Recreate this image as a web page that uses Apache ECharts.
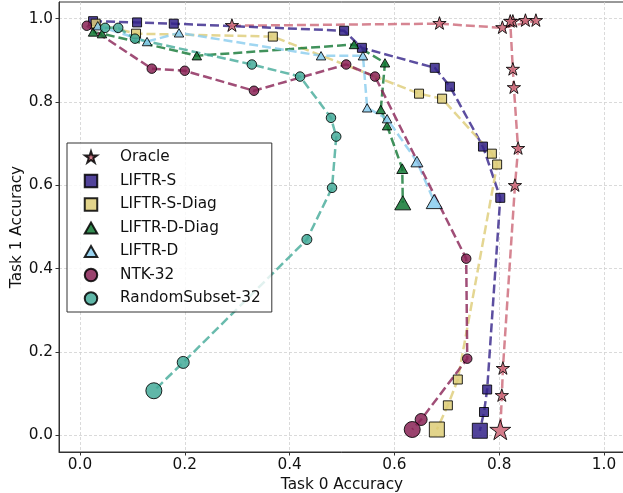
<!DOCTYPE html>
<html><head><meta charset="utf-8">
<script src="https://cdn.jsdelivr.net/npm/echarts@6/dist/echarts.min.js"></script>
<style>html,body{margin:0;padding:0;background:#fff}#c{width:623px;height:493px}</style>
</head><body><div id="c"></div>
<script>
// ---- data ----
const xTicks = [0, 0.2, 0.4, 0.6, 0.8, 1.0];
const xTickLabels = ['0.0', '0.2', '0.4', '0.6', '0.8', '1.0'];
const yTicks = [0, 0.2, 0.4, 0.6, 0.8, 1.0];
const yTickLabels = ['0.0', '0.2', '0.4', '0.6', '0.8', '1.0'];
const xTitle = 'Task 0 Accuracy';
const yTitle = 'Task 1 Accuracy';
const seriesNames = ['Oracle', 'LIFTR-S', 'LIFTR-S-Diag', 'LIFTR-D-Diag', 'LIFTR-D', 'NTK-32', 'RandomSubset-32'];

const oracleX = [0.290, 0.686, 0.806, 0.870, 0.850, 0.826, 0.821, 0.826, 0.828, 0.836, 0.830, 0.807, 0.805, 0.802];
const oracleY = [0.983, 0.988, 0.978, 0.995, 0.995, 0.993, 0.993, 0.878, 0.834, 0.688, 0.599, 0.160, 0.095, 0.011];

const liftrSX = [0.025, 0.109, 0.179, 0.504, 0.538, 0.677, 0.706, 0.769, 0.802, 0.777, 0.771, 0.763];
const liftrSY = [0.994, 0.991, 0.988, 0.971, 0.930, 0.882, 0.837, 0.693, 0.570, 0.110, 0.056, 0.011];

const liftrSDiagX = [0.030, 0.107, 0.368, 0.647, 0.691, 0.786, 0.796, 0.721, 0.702, 0.681];
const liftrSDiagY = [0.988, 0.964, 0.957, 0.820, 0.808, 0.676, 0.650, 0.134, 0.072, 0.014];

const liftrDDiagX = [0.025, 0.042, 0.223, 0.523, 0.582, 0.574, 0.586, 0.615, 0.616];
const liftrDDiagY = [0.968, 0.964, 0.911, 0.938, 0.894, 0.782, 0.743, 0.640, 0.558];

const liftrDX = [0.034, 0.128, 0.189, 0.460, 0.540, 0.548, 0.586, 0.643, 0.676];
const liftrDY = [0.983, 0.945, 0.966, 0.911, 0.911, 0.786, 0.760, 0.657, 0.561];

const ntkX = [0.013, 0.137, 0.200, 0.332, 0.508, 0.563, 0.737, 0.739, 0.651, 0.634];
const ntkY = [0.983, 0.880, 0.875, 0.827, 0.890, 0.861, 0.424, 0.184, 0.038, 0.014];

const randomX = [0.048, 0.073, 0.105, 0.328, 0.420, 0.479, 0.489, 0.481, 0.433, 0.197, 0.141];
const randomY = [0.978, 0.978, 0.952, 0.890, 0.861, 0.762, 0.717, 0.594, 0.470, 0.175, 0.107];

// ---- styles ----
const FONT = 'DejaVu Sans';
const STAR = 'path://M-100 -100 M100 100 M0 -100 L22.45 -30.9 L95.1 -30.9 L36.33 11.8 L58.78 80.9 L0 38.2 L-58.78 80.9 L-36.33 11.8 L-95.1 -30.9 L-22.45 -30.9 Z';
const SQUARE = 'path://M0 0 L100 0 L100 100 L0 100 Z';
const TRI = 'path://M-100 -12 M100 188 M0 0 L100 176 L-100 176 Z';
const styleOf = {
  'Oracle':          { rgb: [204,102,119], symbol: STAR,   base: 14,  tail: [22] },
  'LIFTR-S':         { rgb: [51,34,136],   symbol: SQUARE, base: 9,   tail: [9, 15] },
  'LIFTR-S-Diag':    { rgb: [221,204,119], symbol: SQUARE, base: 9,   tail: [9, 15] },
  'LIFTR-D-Diag':    { rgb: [17,119,51],   symbol: TRI,    base: 9.5, tail: [11, 16] },
  'LIFTR-D':         { rgb: [136,204,238], symbol: TRI,    base: 9.5, tail: [12, 16] },
  'NTK-32':          { rgb: [136,34,85],   symbol: 'circle', base: 9.5, tail: [12, 16] },
  'RandomSubset-32': { rgb: [68,170,153],  symbol: 'circle', base: 9.5, tail: [10, 12, 16] }
};
const dataOf = {
  'Oracle': [oracleX, oracleY],
  'LIFTR-S': [liftrSX, liftrSY],
  'LIFTR-S-Diag': [liftrSDiagX, liftrSDiagY],
  'LIFTR-D-Diag': [liftrDDiagX, liftrDDiagY],
  'LIFTR-D': [liftrDX, liftrDY],
  'NTK-32': [ntkX, ntkY],
  'RandomSubset-32': [randomX, randomY]
};
const rgba = (c, a) => `rgba(${c[0]},${c[1]},${c[2]},${a})`;

function sizeFn(name) {
  const st = styleOf[name];
  const n = dataOf[name][0].length;
  return function (val, params) {
    const i = params.dataIndex;
    const k = i - (n - st.tail.length);
    return k >= 0 ? st.tail[k] : st.base;
  };
}

const series = seriesNames.map(name => {
  const st = styleOf[name];
  const [xs, ys] = dataOf[name];
  return {
    type: 'line',
    name,
    data: xs.map((x, i) => [x, ys[i]]),
    symbol: st.symbol,
    symbolSize: sizeFn(name),
    symbolKeepAspect: true,
    showSymbol: true,
    lineStyle: { color: rgba(st.rgb, 0.8), width: 2.5, type: [9, 4] },
    itemStyle: { color: rgba(st.rgb, 0.85), borderColor: 'rgba(0,0,0,0.85)', borderWidth: 1 },
    emphasis: { disabled: true },
    silent: true,
    animation: false
  };
});

function lab(ticks, labels) {
  return v => {
    let best = 0;
    ticks.forEach((t, i) => { if (Math.abs(t - v) < Math.abs(ticks[best] - v)) best = i; });
    return labels[best];
  };
}

const axisCommon = {
  type: 'value',
  min: -0.04,
  max: 1.04,
  nameLocation: 'middle',
  nameMoveOverlap: false,
  nameTextStyle: { fontFamily: FONT, fontSize: 15.3, color: '#111' },
  axisLine: { show: true, onZero: false, lineStyle: { color: '#333', width: 1 } },
  splitLine: { show: true, lineStyle: { color: '#d0d0d0', width: 0.8, type: [3, 2] } }
};

const option = {
  backgroundColor: '#fff',
  animation: false,
  grid: { left: 59, top: 2, width: 566, height: 450, show: true, borderColor: '#333', borderWidth: 1,
          containLabel: false, outerBoundsMode: 'none' },
  xAxis: Object.assign({}, axisCommon, {
    name: xTitle, nameGap: 26,
    axisTick: { show: true, length: 3.5, inside: false, customValues: xTicks, lineStyle: { color: '#333' } },
    axisLabel: { customValues: xTicks, margin: 6, formatter: lab(xTicks, xTickLabels),
                 fontFamily: FONT, fontSize: 15.3, color: '#111' }
  }),
  yAxis: Object.assign({}, axisCommon, {
    name: yTitle, nameGap: 34,
    axisTick: { show: true, length: 3.5, inside: false, customValues: yTicks, lineStyle: { color: '#333' } },
    axisLabel: { customValues: yTicks, margin: 6, formatter: lab(yTicks, yTickLabels),
                 fontFamily: FONT, fontSize: 15.3, color: '#111' }
  }),
  legend: {
    orient: 'vertical', left: 67, top: 143,
    padding: [7, 11, 6, 16.75],
    itemWidth: 48, itemHeight: 12.5, itemGap: 8.5,
    symbolKeepAspect: true,
    selectedMode: false,
    data: seriesNames.map(n => ({ name: n, icon: styleOf[n].symbol })),
    textStyle: { fontFamily: FONT, fontSize: 15.3, color: '#111' },
    backgroundColor: 'rgba(255,255,255,0.8)',
    borderColor: '#333', borderWidth: 1, borderRadius: 0
  },
  series
};

const chart = echarts.init(document.getElementById('c'), null, { renderer: 'canvas' });
chart.setOption(option);
</script>
</body></html>
